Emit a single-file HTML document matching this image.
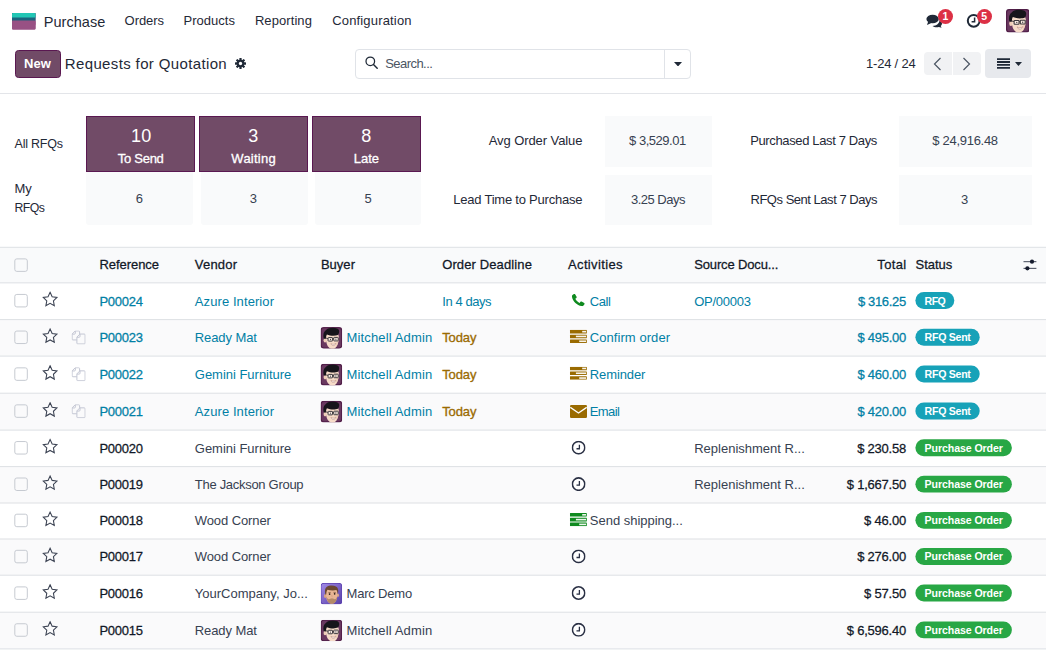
<!DOCTYPE html>
<html lang="en">
<head>
<meta charset="utf-8">
<title>Odoo - Requests for Quotation</title>
<style>
*{box-sizing:border-box;margin:0;padding:0}
html,body{width:1046px;height:654px;overflow:hidden;background:#fff}
body{font-family:"Liberation Sans",sans-serif;font-size:13px;color:#374151;position:relative}
.abs{position:absolute}
.t{position:absolute;white-space:nowrap;line-height:1}
/* navbar */
.badge{position:absolute;width:15.500px;height:15.500px;border-radius:8px;background:#dc3045;color:#fff;font-size:10.500px;font-weight:bold;text-align:center;line-height:15.500px}
/* control panel */
#new{left:15px;top:50px;width:46px;height:28px;background:#714b67;border:1px solid #5a1851;border-radius:3.500px;color:#fff;font-weight:bold;font-size:12.6px;text-align:center;line-height:26px}
#search{left:355px;top:49px;width:336px;height:30px;border:1px solid #e0e3e8;border-radius:4px;background:#fff}
#search .sep{position:absolute;left:308px;top:0;width:1px;height:28px;background:#e0e3e8}

.pbtn{position:absolute;top:52px;height:23px;background:#f1f2f4}
#viewbtn{left:985px;top:49px;width:46px;height:29px;border-radius:4px;background:#e7e9ed}
#cpline{left:0;top:93px;width:1046px;height:1px;background:#e3e5e9}
/* dashboard */
.pcell{position:absolute;top:115.5px;height:56.5px;width:109.3px;background:#714b67;border:1px solid #5a1851;color:#fff;text-align:center}
.lcell{position:absolute;background:#f9fafb;color:#374151;font-size:12.6px;text-align:center;border-radius:0 0 3px 3px}
.cb{width:13.500px;height:13.500px;border:1px solid #cbcfd5;border-radius:2px}
</style>
</head>
<body>
<!-- ================= NAVBAR ================= -->
<div id="nav">
  <svg class="abs" style="left:12px;top:13px" width="24" height="17" viewBox="0 0 24 17">
    <rect x="0" y="0" width="23.5" height="16.4" rx="1" fill="#985184"/>
    <rect x="0" y="0" width="23.5" height="7.800" fill="#1b647d"/>
    <path d="M0 1a1 1 0 0 1 1-1h21.5a1 1 0 0 1 1 1v3.4H0z" fill="#22c7b5"/>
    <rect x="0" y="7.800" width="23.5" height="8.600" rx="1" fill="#985184"/>
    <rect x="0" y="7.800" width="23.5" height="4" fill="#985184"/>
  </svg>

  <!-- chat icon -->
  <svg class="abs" style="left:926px;top:14px" width="17" height="14" viewBox="0 0 17 14">
    <ellipse cx="6.6" cy="5" rx="6.2" ry="4.3" fill="#1f2937"/>
    <path d="M2.2 7.6 L1 11 L5.4 9z" fill="#1f2937"/>
    <path d="M13.4 6.2c1.6.8 2.6 2 2.6 3.3 0 1-.5 1.8-1.3 2.5l.9 1.8-2.7-.9c-.7.2-1.4.3-2.2.3-1.700 0-3.200-.500-4.200-1.300 4.100-.2 7.100-2.600 6.900-5.700z" fill="#1f2937"/>
  </svg>
  <div class="badge" style="left:937.700px;top:8.500px">1</div>
  <!-- clock icon -->
  <svg class="abs" style="left:966px;top:13px" width="16" height="16" viewBox="0 0 16 16">
    <circle cx="7.700" cy="7.800" r="5.900" fill="#fff" stroke="#1f2937" stroke-width="2"/>
    <path d="M8.600 4.600v4.200H5.600" fill="none" stroke="#1f2937" stroke-width="1.500"/>
  </svg>
  <div class="badge" style="left:976.500px;top:8.500px">5</div>
  <!--NAVAV--><svg class="abs" style="left:1005.6px;top:9.4px" width="23.5" height="23.5" viewBox="0 0 24 24"><clipPath id="c99"><rect width="24" height="24" rx="3"/></clipPath><g clip-path="url(#c99)"><rect width="24" height="24" fill="#511e48"/><rect x="1.200" y="1.200" width="21.600" height="21.600" rx="2.500" fill="#6a3960"/><ellipse cx="5" cy="14.700" rx="1.700" ry="2.600" fill="#efcdb8"/><path d="M5.800 9.500C6 6.500 9 5.500 13 5.500s7 1.500 7.200 5c.2 4-.5 8-2.200 10.800-1 1.700-2.700 2.900-4.800 2.900s-4-1.200-5.200-3C6.300 18.700 5.600 13.500 5.800 9.500z" fill="#f6dbc8"/><path d="M17.500 10c1.500 1 2.400 3 2.200 5-.3 3-1.200 5.500-2.500 7 .6-3 .8-8 .3-12z" fill="#eac6b0" opacity=".7"/><path d="M3.400 12.600C2.600 8.500 3.200 5.200 5.800 3.500 8.500.600 14.500.200 18.200 1.500c1.800.6 2.600 2 2.400 3.800-.2 1.600-.6 2.700-1.300 3.400-3 1.300-8.500 1.200-12.300-.5-.8 1.300-1 2.800-1 4.600-.6.400-1.700.5-2.600-.2z" fill="#17151b"/><g fill="#fbf3ee" fill-opacity=".75" stroke="#3a373c" stroke-width="1.100"><rect x="8.300" y="11.700" width="5" height="3.900" rx=".6"/><rect x="14.600" y="11.500" width="5" height="3.900" rx=".6"/></g><path d="M13.300 13h1.300M8.300 12.800l-2.600-.6" stroke="#3a373c" stroke-width="1" fill="none"/><circle cx="11" cy="13.700" r=".7" fill="#4a4448"/><circle cx="17" cy="13.500" r=".7" fill="#4a4448"/><path d="M11.500 18.300c1.600 1.300 4 1.200 5.500-.3-.5 1.900-1.600 2.600-2.900 2.600s-2.200-.8-2.600-2.300z" fill="#fff" stroke="#b98677" stroke-width=".6"/></g></svg><!--/NAVAV-->
</div>

<!-- ================= CONTROL PANEL ================= -->
<div class="abs" id="new"></div>
<!-- gear -->
<svg class="abs" style="left:235px;top:58px" width="11" height="11" viewBox="0 0 22 22">
  <g fill="#1f2937"><circle cx="11" cy="11" r="7.500"/>
  <g id="tooth"><rect x="8.700" y="0" width="4.600" height="22" rx="1"/></g>
  <rect x="8.700" y="0" width="4.600" height="22" rx="1" transform="rotate(45 11 11)"/>
  <rect x="8.700" y="0" width="4.600" height="22" rx="1" transform="rotate(90 11 11)"/>
  <rect x="8.700" y="0" width="4.600" height="22" rx="1" transform="rotate(135 11 11)"/></g>
  <circle cx="11" cy="11" r="3.300" fill="#fff"/>
</svg>

<div class="abs" id="search">
  <svg class="abs" style="left:8.700px;top:6.400px" width="13" height="13" viewBox="0 0 13 13">
    <circle cx="5.300" cy="5.300" r="4.300" fill="none" stroke="#1f2937" stroke-width="1.250"/>
    <path d="M8.500 8.500L12.200 12.200" stroke="#1f2937" stroke-width="1.450" stroke-linecap="round"/>
  </svg>
  <div class="sep"></div>
  <svg class="abs" style="left:317.500px;top:11.500px" width="8" height="4.500" viewBox="0 0 8 4.500"><path d="M0 0h8L4 4.500z" fill="#1f2937"/></svg>
</div>
<div class="pbtn" style="left:923.500px;width:28.300px;border-radius:4px 0 0 4px"></div>
<div class="pbtn" style="left:952.600px;width:28.500px;border-radius:0 4px 4px 0"></div>
<svg class="abs" style="left:933px;top:56.500px" width="9" height="14" viewBox="0 0 9 14"><path d="M7.500 1L1.500 7l6 6" fill="none" stroke="#4b5563" stroke-width="1.200"/></svg>
<svg class="abs" style="left:962px;top:56.500px" width="9" height="14" viewBox="0 0 9 14"><path d="M1.500 1l6 6-6 6" fill="none" stroke="#4b5563" stroke-width="1.200"/></svg>
<div class="abs" id="viewbtn">
  <svg class="abs" style="left:11.500px;top:9px" width="13" height="11" viewBox="0 0 13 11"><path d="M0 .2h13v1.800H0zM0 3.100h13v1.800H0zM0 6h13v1.800H0zM0 8.900h13v1.800H0z" fill="#1f2937"/></svg>
  <svg class="abs" style="left:29.500px;top:12.500px" width="7" height="4" viewBox="0 0 7 4"><path d="M0 0h7L3.500 4z" fill="#1f2937"/></svg>
</div>
<div class="abs" id="cpline"></div>

<!-- ================= DASHBOARD ================= -->

<div class="lcell" style="left:86px;top:172px;width:107px;height:52.500px"></div>
<div class="lcell" style="left:200.500px;top:172px;width:107px;height:52.500px"></div>
<div class="lcell" style="left:314.500px;top:172px;width:106.500px;height:52.500px"></div>

<div class="pcell" style="left:85.800px"></div>
<div class="pcell" style="left:199px"></div>
<div class="pcell" style="left:311.800px"></div>
<div class="lcell" style="left:605px;top:115.500px;width:107px;height:51.500px;border-radius:0"></div>
<div class="lcell" style="left:605px;top:174.500px;width:107px;height:50.500px;border-radius:0"></div>
<div class="lcell" style="left:899px;top:115.500px;width:132.500px;height:51.500px;border-radius:0"></div>
<div class="lcell" style="left:899px;top:174.500px;width:132.500px;height:50.500px;border-radius:0"></div>

<!--TOPTEXT-->
<div class="t" style="left:43.8px;top:15.13px;font-size:14.5px;color:#1f2937;letter-spacing:0.029px;">Purchase</div>
<div class="t" style="left:124.6px;top:14.20px;font-size:13px;color:#1f2937;letter-spacing:-0.056px;">Orders</div>
<div class="t" style="left:183.6px;top:14.20px;font-size:13px;color:#1f2937;letter-spacing:0.011px;">Products</div>
<div class="t" style="left:254.9px;top:14.20px;font-size:13px;color:#1f2937;letter-spacing:0.081px;">Reporting</div>
<div class="t" style="left:332.2px;top:14.20px;font-size:13px;color:#1f2937;letter-spacing:0.167px;">Configuration</div>
<div class="t" style="left:24.1px;top:57.00px;font-size:13px;color:#fff;font-weight:700;letter-spacing:0.022px;">New</div>
<div class="t" style="left:64.8px;top:56.20px;font-size:15px;color:#1f2937;letter-spacing:0.365px;">Requests for Quotation</div>
<div class="t" style="left:385.2px;top:57.40px;font-size:13px;color:#4b5563;letter-spacing:-0.548px;">Search...</div>
<div class="t" style="left:866.0px;top:57.40px;font-size:13px;color:#1f2937;letter-spacing:-0.203px;">1-24 / 24</div>
<div class="t" style="left:14.6px;top:137.62px;font-size:12.5px;color:#1f2937;letter-spacing:-0.237px;">All RFQs</div>
<div class="t" style="left:14.6px;top:182.30px;font-size:13px;color:#1f2937;letter-spacing:-0.122px;">My</div>
<div class="t" style="left:14.6px;top:202.29px;font-size:12.3px;color:#1f2937;letter-spacing:-0.600px;">RFQs</div>
<div class="t" style="left:488.72px;top:134.30px;font-size:13px;color:#1f2937;letter-spacing:-0.080px;">Avg Order Value</div>
<div class="t" style="left:453.28px;top:192.90px;font-size:13px;color:#1f2937;letter-spacing:-0.224px;">Lead Time to Purchase</div>
<div class="t" style="left:750.2px;top:134.30px;font-size:13px;color:#1f2937;letter-spacing:-0.362px;">Purchased Last 7 Days</div>
<div class="t" style="left:750.5px;top:192.90px;font-size:13px;color:#1f2937;letter-spacing:-0.479px;">RFQs Sent Last 7 Days</div>
<div class="t" style="left:131.07px;top:126.56px;font-size:18px;color:#fff;letter-spacing:0.234px;">10</div>
<div class="t" style="left:248.29px;top:126.56px;font-size:18px;color:#fff;">3</div>
<div class="t" style="left:361.29px;top:126.56px;font-size:18px;color:#fff;">8</div>
<div class="t" style="left:117.76px;top:152.00px;font-size:13px;color:#fff;letter-spacing:-0.272px;-webkit-text-stroke:0.3px #fff;">To Send</div>
<div class="t" style="left:231.37px;top:152.00px;font-size:13px;color:#fff;letter-spacing:0.232px;-webkit-text-stroke:0.3px #fff;">Waiting</div>
<div class="t" style="left:353.86px;top:152.00px;font-size:13px;color:#fff;letter-spacing:-0.078px;-webkit-text-stroke:0.3px #fff;">Late</div>
<div class="t" style="left:135.78px;top:192.00px;font-size:13px;color:#374151;">6</div>
<div class="t" style="left:249.68px;top:192.00px;font-size:13px;color:#374151;">3</div>
<div class="t" style="left:364.38px;top:192.00px;font-size:13px;color:#374151;">5</div>
<div class="t" style="left:629.01px;top:134.30px;font-size:13px;color:#374151;letter-spacing:-0.475px;">$ 3,529.01</div>
<div class="t" style="left:630.99px;top:192.90px;font-size:13px;color:#374151;letter-spacing:-0.516px;">3.25 Days</div>
<div class="t" style="left:932.31px;top:134.30px;font-size:13px;color:#374151;letter-spacing:-0.290px;">$ 24,916.48</div>
<div class="t" style="left:961.08px;top:192.90px;font-size:13px;color:#374151;">3</div>
<!--/TOPTEXT-->
<!-- ================= LIST ================= -->
<!--LIST-->
<svg class="abs" style="left:0;top:0" width="1046" height="654" viewBox="0 0 1046 654"><rect x="0" y="247.30" width="1046" height="35.55" fill="#f9fafb"/><rect x="0" y="246.80" width="1046" height="1" fill="#dde0e4"/><rect x="0" y="319.60" width="1046" height="36.50" fill="#fafafb"/><rect x="0" y="393.20" width="1046" height="36.90" fill="#fafafb"/><rect x="0" y="466.60" width="1046" height="36.40" fill="#fafafb"/><rect x="0" y="539.00" width="1046" height="36.20" fill="#fafafb"/><rect x="0" y="612.20" width="1046" height="36.70" fill="#fafafb"/><rect x="0" y="282.35" width="1046" height="1" fill="#dde0e4"/><rect x="0" y="319.10" width="1046" height="1" fill="#dde0e4"/><rect x="0" y="355.60" width="1046" height="1" fill="#dde0e4"/><rect x="0" y="392.70" width="1046" height="1" fill="#dde0e4"/><rect x="0" y="429.60" width="1046" height="1" fill="#dde0e4"/><rect x="0" y="466.10" width="1046" height="1" fill="#dde0e4"/><rect x="0" y="502.50" width="1046" height="1" fill="#dde0e4"/><rect x="0" y="538.50" width="1046" height="1" fill="#dde0e4"/><rect x="0" y="574.70" width="1046" height="1" fill="#dde0e4"/><rect x="0" y="611.70" width="1046" height="1" fill="#dde0e4"/><rect x="0" y="648.40" width="1046" height="1" fill="#dde0e4"/><rect x="14.8" y="258.88" width="12.500" height="12.500" rx="2" fill="none" stroke="#c6cad1" stroke-width="1"/><rect x="14.8" y="294.43" width="12.500" height="12.500" rx="2" fill="none" stroke="#c6cad1" stroke-width="1"/><rect x="14.8" y="331.05" width="12.500" height="12.500" rx="2" fill="none" stroke="#c6cad1" stroke-width="1"/><rect x="14.8" y="367.85" width="12.500" height="12.500" rx="2" fill="none" stroke="#c6cad1" stroke-width="1"/><rect x="14.8" y="404.85" width="12.500" height="12.500" rx="2" fill="none" stroke="#c6cad1" stroke-width="1"/><rect x="14.8" y="441.55" width="12.500" height="12.500" rx="2" fill="none" stroke="#c6cad1" stroke-width="1"/><rect x="14.8" y="478.00" width="12.500" height="12.500" rx="2" fill="none" stroke="#c6cad1" stroke-width="1"/><rect x="14.8" y="514.20" width="12.500" height="12.500" rx="2" fill="none" stroke="#c6cad1" stroke-width="1"/><rect x="14.8" y="550.30" width="12.500" height="12.500" rx="2" fill="none" stroke="#c6cad1" stroke-width="1"/><rect x="14.8" y="586.90" width="12.500" height="12.500" rx="2" fill="none" stroke="#c6cad1" stroke-width="1"/><rect x="14.8" y="623.75" width="12.500" height="12.500" rx="2" fill="none" stroke="#c6cad1" stroke-width="1"/><svg x="42.10" y="291.23" width="16" height="15.800" viewBox="0 0 16 15.4" preserveAspectRatio="none"><path d="M8 1.1l2.05 4.35 4.75.62-3.47 3.3.87 4.72L8 11.78l-4.2 2.31.87-4.72L1.2 6.07l4.75-.62z" fill="none" stroke="#3d4454" stroke-width="1.080" stroke-linejoin="miter"/></svg><svg x="571.40" y="293.62" width="14" height="13" viewBox="0 0 14 13"><path d="M2.600.4c.4-.2.900-.1 1.100.3l1.500 2.500c.2.400.1.800-.2 1.100l-1.100.9c.8 1.700 2.300 3.200 4.200 4.100l1-1.100c.3-.3.700-.4 1.100-.2l2.600 1.400c.4.200.5.700.3 1.100l-.5.900c-.5.900-1.400 1.300-2.400 1.100C5.500 11.600 1.600 7.800.6 3.300.4 2.300.8 1.400 1.700.9z" fill="#0f8a1f"/></svg><rect x="915.400" y="292.12" width="38.9" height="16.900" rx="8.450" fill="#17a2b8"/><svg x="42.10" y="327.85" width="16" height="15.800" viewBox="0 0 16 15.4" preserveAspectRatio="none"><path d="M8 1.1l2.05 4.35 4.75.62-3.47 3.3.87 4.72L8 11.78l-4.2 2.31.87-4.72L1.2 6.07l4.75-.62z" fill="none" stroke="#3d4454" stroke-width="1.080" stroke-linejoin="miter"/></svg><svg x="71.60" y="330.45" width="14" height="14" viewBox="0 0 14 14"><g fill="none" stroke="#c3c6d3" stroke-width="1"><path d="M5.2 9.5H1.3a.8.8 0 0 1-.8-.8V3.6L3.600.5h3.600a.8.8 0 0 1 .8.8v2.400"/><path d="M3.700.6v2.300a.8.8 0 0 1-.8.8H.6"/><path d="M5.300 12.700V6.600l3-3h4.400a.8.8 0 0 1 .8.8v8.300a.8.8 0 0 1-.8.8H6.100a.8.8 0 0 1-.8-.8z"/><path d="M8.400 3.700V6a.8.8 0 0 1-.8.8H5.400"/></g></svg><svg x="320.60" y="327.05" width="21.6" height="21.6" viewBox="0 0 24 24"><clipPath id="c1"><rect width="24" height="24" rx="3.4"/></clipPath><g clip-path="url(#c1)"><rect width="24" height="24" fill="#511e48"/><rect x="1.200" y="1.200" width="21.600" height="21.600" rx="2.500" fill="#6a3960"/><ellipse cx="5" cy="14.700" rx="1.700" ry="2.600" fill="#efcdb8"/><path d="M5.800 9.500C6 6.500 9 5.500 13 5.500s7 1.500 7.200 5c.2 4-.5 8-2.200 10.800-1 1.700-2.700 2.900-4.800 2.900s-4-1.200-5.200-3C6.300 18.700 5.600 13.500 5.800 9.500z" fill="#f6dbc8"/><path d="M17.500 10c1.500 1 2.400 3 2.200 5-.3 3-1.200 5.500-2.500 7 .6-3 .8-8 .3-12z" fill="#eac6b0" opacity=".7"/><path d="M3.400 12.600C2.600 8.500 3.200 5.200 5.800 3.500 8.500.600 14.500.200 18.200 1.500c1.800.6 2.600 2 2.400 3.800-.2 1.600-.6 2.700-1.300 3.400-3 1.300-8.500 1.200-12.300-.5-.8 1.300-1 2.800-1 4.600-.6.400-1.700.5-2.600-.2z" fill="#17151b"/><g fill="#fbf3ee" fill-opacity=".75" stroke="#3a373c" stroke-width="1.100"><rect x="8.300" y="11.700" width="5" height="3.900" rx=".6"/><rect x="14.600" y="11.500" width="5" height="3.900" rx=".6"/></g><path d="M13.300 13h1.300M8.300 12.800l-2.600-.6" stroke="#3a373c" stroke-width="1" fill="none"/><circle cx="11" cy="13.700" r=".7" fill="#4a4448"/><circle cx="17" cy="13.500" r=".7" fill="#4a4448"/><path d="M11.500 18.300c1.600 1.300 4 1.200 5.500-.3-.5 1.900-1.600 2.600-2.900 2.600s-2.200-.8-2.600-2.300z" fill="#fff" stroke="#b98677" stroke-width=".6"/></g></svg><svg x="569.90" y="329.85" width="17" height="13.200" viewBox="0 0 17 13.200"><g fill="#9a6b01"><rect x="0" y="0" width="17" height="3.600" rx=".5"/><rect x="0" y="4.800" width="17" height="3.600" rx=".5"/><rect x="0" y="9.600" width="17" height="3.600" rx=".5"/></g><g fill="#fff" opacity=".92"><rect x="12.300" y="1" width="3.800" height="1.600"/><rect x="6" y="5.800" width="10.100" height="1.600"/><rect x="9.300" y="10.600" width="6.800" height="1.600"/></g></svg><rect x="915.400" y="328.75" width="64.3" height="16.900" rx="8.450" fill="#17a2b8"/><svg x="42.10" y="364.65" width="16" height="15.800" viewBox="0 0 16 15.4" preserveAspectRatio="none"><path d="M8 1.1l2.05 4.35 4.75.62-3.47 3.3.87 4.72L8 11.78l-4.2 2.31.87-4.72L1.2 6.07l4.75-.62z" fill="none" stroke="#3d4454" stroke-width="1.080" stroke-linejoin="miter"/></svg><svg x="71.60" y="367.25" width="14" height="14" viewBox="0 0 14 14"><g fill="none" stroke="#c3c6d3" stroke-width="1"><path d="M5.2 9.5H1.3a.8.8 0 0 1-.8-.8V3.6L3.600.5h3.600a.8.8 0 0 1 .8.8v2.400"/><path d="M3.700.6v2.300a.8.8 0 0 1-.8.8H.6"/><path d="M5.300 12.700V6.600l3-3h4.400a.8.8 0 0 1 .8.8v8.300a.8.8 0 0 1-.8.8H6.100a.8.8 0 0 1-.8-.8z"/><path d="M8.400 3.700V6a.8.8 0 0 1-.8.8H5.400"/></g></svg><svg x="320.60" y="363.85" width="21.6" height="21.6" viewBox="0 0 24 24"><clipPath id="c2"><rect width="24" height="24" rx="3.4"/></clipPath><g clip-path="url(#c2)"><rect width="24" height="24" fill="#511e48"/><rect x="1.200" y="1.200" width="21.600" height="21.600" rx="2.500" fill="#6a3960"/><ellipse cx="5" cy="14.700" rx="1.700" ry="2.600" fill="#efcdb8"/><path d="M5.800 9.500C6 6.500 9 5.500 13 5.500s7 1.500 7.200 5c.2 4-.5 8-2.200 10.800-1 1.700-2.700 2.900-4.800 2.900s-4-1.200-5.200-3C6.300 18.700 5.600 13.500 5.800 9.500z" fill="#f6dbc8"/><path d="M17.500 10c1.500 1 2.400 3 2.200 5-.3 3-1.200 5.500-2.500 7 .6-3 .8-8 .3-12z" fill="#eac6b0" opacity=".7"/><path d="M3.400 12.600C2.600 8.500 3.200 5.200 5.800 3.500 8.500.600 14.500.200 18.200 1.500c1.800.6 2.600 2 2.400 3.800-.2 1.600-.6 2.700-1.300 3.400-3 1.300-8.500 1.200-12.300-.5-.8 1.300-1 2.800-1 4.600-.6.400-1.700.5-2.600-.2z" fill="#17151b"/><g fill="#fbf3ee" fill-opacity=".75" stroke="#3a373c" stroke-width="1.100"><rect x="8.300" y="11.700" width="5" height="3.900" rx=".6"/><rect x="14.600" y="11.500" width="5" height="3.900" rx=".6"/></g><path d="M13.300 13h1.300M8.300 12.800l-2.600-.6" stroke="#3a373c" stroke-width="1" fill="none"/><circle cx="11" cy="13.700" r=".7" fill="#4a4448"/><circle cx="17" cy="13.500" r=".7" fill="#4a4448"/><path d="M11.500 18.300c1.600 1.300 4 1.200 5.500-.3-.5 1.900-1.600 2.600-2.900 2.600s-2.200-.8-2.600-2.300z" fill="#fff" stroke="#b98677" stroke-width=".6"/></g></svg><svg x="569.90" y="366.65" width="17" height="13.200" viewBox="0 0 17 13.200"><g fill="#9a6b01"><rect x="0" y="0" width="17" height="3.600" rx=".5"/><rect x="0" y="4.800" width="17" height="3.600" rx=".5"/><rect x="0" y="9.600" width="17" height="3.600" rx=".5"/></g><g fill="#fff" opacity=".92"><rect x="12.300" y="1" width="3.800" height="1.600"/><rect x="6" y="5.800" width="10.100" height="1.600"/><rect x="9.300" y="10.600" width="6.800" height="1.600"/></g></svg><rect x="915.400" y="365.55" width="64.3" height="16.900" rx="8.450" fill="#17a2b8"/><svg x="42.10" y="401.65" width="16" height="15.800" viewBox="0 0 16 15.4" preserveAspectRatio="none"><path d="M8 1.1l2.05 4.35 4.75.62-3.47 3.3.87 4.72L8 11.78l-4.2 2.31.87-4.72L1.2 6.07l4.75-.62z" fill="none" stroke="#3d4454" stroke-width="1.080" stroke-linejoin="miter"/></svg><svg x="71.60" y="404.25" width="14" height="14" viewBox="0 0 14 14"><g fill="none" stroke="#c3c6d3" stroke-width="1"><path d="M5.2 9.5H1.3a.8.8 0 0 1-.8-.8V3.6L3.600.5h3.600a.8.8 0 0 1 .8.8v2.400"/><path d="M3.700.6v2.300a.8.8 0 0 1-.8.8H.6"/><path d="M5.300 12.700V6.600l3-3h4.400a.8.8 0 0 1 .8.8v8.300a.8.8 0 0 1-.8.8H6.100a.8.8 0 0 1-.8-.8z"/><path d="M8.400 3.700V6a.8.8 0 0 1-.8.8H5.400"/></g></svg><svg x="320.60" y="400.85" width="21.6" height="21.6" viewBox="0 0 24 24"><clipPath id="c3"><rect width="24" height="24" rx="3.4"/></clipPath><g clip-path="url(#c3)"><rect width="24" height="24" fill="#511e48"/><rect x="1.200" y="1.200" width="21.600" height="21.600" rx="2.500" fill="#6a3960"/><ellipse cx="5" cy="14.700" rx="1.700" ry="2.600" fill="#efcdb8"/><path d="M5.800 9.500C6 6.500 9 5.500 13 5.500s7 1.500 7.200 5c.2 4-.5 8-2.200 10.800-1 1.700-2.700 2.900-4.800 2.900s-4-1.200-5.200-3C6.300 18.700 5.600 13.500 5.800 9.500z" fill="#f6dbc8"/><path d="M17.500 10c1.500 1 2.400 3 2.200 5-.3 3-1.200 5.500-2.500 7 .6-3 .8-8 .3-12z" fill="#eac6b0" opacity=".7"/><path d="M3.400 12.600C2.600 8.500 3.200 5.200 5.800 3.500 8.500.600 14.500.200 18.200 1.500c1.800.6 2.600 2 2.400 3.800-.2 1.600-.6 2.700-1.300 3.400-3 1.300-8.500 1.200-12.300-.5-.8 1.300-1 2.800-1 4.600-.6.400-1.700.5-2.600-.2z" fill="#17151b"/><g fill="#fbf3ee" fill-opacity=".75" stroke="#3a373c" stroke-width="1.100"><rect x="8.300" y="11.700" width="5" height="3.900" rx=".6"/><rect x="14.600" y="11.500" width="5" height="3.900" rx=".6"/></g><path d="M13.300 13h1.300M8.300 12.800l-2.600-.6" stroke="#3a373c" stroke-width="1" fill="none"/><circle cx="11" cy="13.700" r=".7" fill="#4a4448"/><circle cx="17" cy="13.500" r=".7" fill="#4a4448"/><path d="M11.500 18.300c1.600 1.300 4 1.200 5.500-.3-.5 1.900-1.600 2.600-2.900 2.600s-2.200-.8-2.600-2.300z" fill="#fff" stroke="#b98677" stroke-width=".6"/></g></svg><svg x="570.00" y="405.05" width="17" height="13" viewBox="0 0 17 13"><rect width="17" height="13" rx="1.300" fill="#9a6b01"/><path d="M.3 2.300l8.200 5.600 8.200-5.600" fill="none" stroke="#fff" stroke-width="1.300"/></svg><rect x="915.400" y="402.55" width="64.3" height="16.900" rx="8.450" fill="#17a2b8"/><svg x="42.10" y="438.35" width="16" height="15.800" viewBox="0 0 16 15.4" preserveAspectRatio="none"><path d="M8 1.1l2.05 4.35 4.75.62-3.47 3.3.87 4.72L8 11.78l-4.2 2.31.87-4.72L1.2 6.07l4.75-.62z" fill="none" stroke="#3d4454" stroke-width="1.080" stroke-linejoin="miter"/></svg><svg x="571.60" y="440.65" width="14" height="14" viewBox="0 0 14 14"><circle cx="7" cy="7" r="6.200" fill="#fff" stroke="#2a3044" stroke-width="1.600"/><path d="M7.800 4v4.100H4.900" fill="none" stroke="#2a3044" stroke-width="1.300"/></svg><rect x="915.400" y="439.25" width="96.5" height="16.900" rx="8.450" fill="#28a745"/><svg x="42.10" y="474.80" width="16" height="15.800" viewBox="0 0 16 15.4" preserveAspectRatio="none"><path d="M8 1.1l2.05 4.35 4.75.62-3.47 3.3.87 4.72L8 11.78l-4.2 2.31.87-4.72L1.2 6.07l4.75-.62z" fill="none" stroke="#3d4454" stroke-width="1.080" stroke-linejoin="miter"/></svg><svg x="571.60" y="477.10" width="14" height="14" viewBox="0 0 14 14"><circle cx="7" cy="7" r="6.200" fill="#fff" stroke="#2a3044" stroke-width="1.600"/><path d="M7.800 4v4.100H4.900" fill="none" stroke="#2a3044" stroke-width="1.300"/></svg><rect x="915.400" y="475.70" width="96.5" height="16.900" rx="8.450" fill="#28a745"/><svg x="42.10" y="511.00" width="16" height="15.800" viewBox="0 0 16 15.4" preserveAspectRatio="none"><path d="M8 1.1l2.05 4.35 4.75.62-3.47 3.3.87 4.72L8 11.78l-4.2 2.31.87-4.72L1.2 6.07l4.75-.62z" fill="none" stroke="#3d4454" stroke-width="1.080" stroke-linejoin="miter"/></svg><svg x="569.90" y="513.00" width="17" height="13.200" viewBox="0 0 17 13.200"><g fill="#0f8a1f"><rect x="0" y="0" width="17" height="3.600" rx=".5"/><rect x="0" y="4.800" width="17" height="3.600" rx=".5"/><rect x="0" y="9.600" width="17" height="3.600" rx=".5"/></g><g fill="#fff" opacity=".92"><rect x="12.300" y="1" width="3.800" height="1.600"/><rect x="6" y="5.800" width="10.100" height="1.600"/><rect x="9.300" y="10.600" width="6.800" height="1.600"/></g></svg><rect x="915.400" y="511.90" width="96.5" height="16.900" rx="8.450" fill="#28a745"/><svg x="42.10" y="547.10" width="16" height="15.800" viewBox="0 0 16 15.4" preserveAspectRatio="none"><path d="M8 1.1l2.05 4.35 4.75.62-3.47 3.3.87 4.72L8 11.78l-4.2 2.31.87-4.72L1.2 6.07l4.75-.62z" fill="none" stroke="#3d4454" stroke-width="1.080" stroke-linejoin="miter"/></svg><svg x="571.60" y="549.40" width="14" height="14" viewBox="0 0 14 14"><circle cx="7" cy="7" r="6.200" fill="#fff" stroke="#2a3044" stroke-width="1.600"/><path d="M7.800 4v4.100H4.900" fill="none" stroke="#2a3044" stroke-width="1.300"/></svg><rect x="915.400" y="548.00" width="96.5" height="16.900" rx="8.450" fill="#28a745"/><svg x="42.10" y="583.70" width="16" height="15.800" viewBox="0 0 16 15.4" preserveAspectRatio="none"><path d="M8 1.1l2.05 4.35 4.75.62-3.47 3.3.87 4.72L8 11.78l-4.2 2.31.87-4.72L1.2 6.07l4.75-.62z" fill="none" stroke="#3d4454" stroke-width="1.080" stroke-linejoin="miter"/></svg><svg x="320.60" y="582.90" width="21.6" height="21.6" viewBox="0 0 24 24"><clipPath id="c4"><rect width="24" height="24" rx="3.4"/></clipPath><linearGradient id="g4" x1="0" y1="0" x2="1" y2="1"><stop offset="0" stop-color="#a18be6"/><stop offset=".5" stop-color="#7c63c6"/><stop offset="1" stop-color="#5a43a8"/></linearGradient><g clip-path="url(#c4)"><rect width="24" height="24" fill="#5a3fb0"/><rect x=".9" y=".9" width="22.200" height="22.200" rx="2.600" fill="url(#g4)"/><ellipse cx="5.200" cy="14.600" rx="1.500" ry="2.300" fill="#d9a283"/><ellipse cx="19.300" cy="13.800" rx="1.200" ry="2" fill="#d9a283"/><path d="M6 9c.5-3.500 3-5 6.500-5s6 1.700 6.300 5.500c.3 4-.3 8-1.800 10.700-1 1.800-2.600 2.900-4.600 2.900s-3.800-1.200-4.900-3C6.200 17.700 5.600 13 6 9z" fill="#e9b594"/><path d="M5.300 13C4.300 9 4.800 6 7 4.400 9 2.800 14 2.500 17 3.900c2 1 2.700 3 2.600 5.600 0 1.100-.2 2-.5 2.800-.3-1.700-.7-3.200-1.500-4.300-2.500.6-7 .5-10-.3-.9 1.400-1.200 3.100-1.300 5.200-.4.200-.7.200-1 .1z" fill="#6b4831"/><path d="M6.500 15c.6 1.800 1.500 2.900 2.700 3.200 1.700-1.200 5-1.200 6.700 0 1.200-.4 2-1.500 2.500-3.500-.1 4.500-2.200 8.500-5.900 8.500s-5.700-3.800-6-8.200z" fill="#b48a68"/><path d="M11.200 17.200c.9-.5 2.100-.5 3 0-.8.600-2.200.6-3 0z" fill="#c79a7c"/><circle cx="10" cy="12.400" r=".95" fill="#2a1d1a"/><circle cx="15.600" cy="12.100" r=".95" fill="#2a1d1a"/><path d="M8.600 10.900l2.600-.3M14.300 10.500l2.600.1" stroke="#6b4831" stroke-width=".7"/><path d="M12.400 13.500c.2 1.200.3 2 .9 2.400" stroke="#cf977a" stroke-width=".7" fill="none"/></g></svg><svg x="571.60" y="586.00" width="14" height="14" viewBox="0 0 14 14"><circle cx="7" cy="7" r="6.200" fill="#fff" stroke="#2a3044" stroke-width="1.600"/><path d="M7.800 4v4.100H4.900" fill="none" stroke="#2a3044" stroke-width="1.300"/></svg><rect x="915.400" y="584.60" width="96.5" height="16.900" rx="8.450" fill="#28a745"/><svg x="42.10" y="620.55" width="16" height="15.800" viewBox="0 0 16 15.4" preserveAspectRatio="none"><path d="M8 1.1l2.05 4.35 4.75.62-3.47 3.3.87 4.72L8 11.78l-4.2 2.31.87-4.72L1.2 6.07l4.75-.62z" fill="none" stroke="#3d4454" stroke-width="1.080" stroke-linejoin="miter"/></svg><svg x="320.60" y="619.75" width="21.6" height="21.6" viewBox="0 0 24 24"><clipPath id="c5"><rect width="24" height="24" rx="3.4"/></clipPath><g clip-path="url(#c5)"><rect width="24" height="24" fill="#511e48"/><rect x="1.200" y="1.200" width="21.600" height="21.600" rx="2.500" fill="#6a3960"/><ellipse cx="5" cy="14.700" rx="1.700" ry="2.600" fill="#efcdb8"/><path d="M5.800 9.500C6 6.500 9 5.500 13 5.500s7 1.500 7.200 5c.2 4-.5 8-2.200 10.800-1 1.700-2.700 2.900-4.800 2.900s-4-1.200-5.200-3C6.300 18.700 5.600 13.500 5.800 9.500z" fill="#f6dbc8"/><path d="M17.500 10c1.500 1 2.400 3 2.200 5-.3 3-1.200 5.500-2.500 7 .6-3 .8-8 .3-12z" fill="#eac6b0" opacity=".7"/><path d="M3.400 12.600C2.600 8.500 3.200 5.200 5.800 3.500 8.500.600 14.500.200 18.200 1.500c1.800.6 2.600 2 2.400 3.800-.2 1.600-.6 2.700-1.300 3.400-3 1.300-8.500 1.200-12.300-.5-.8 1.300-1 2.800-1 4.600-.6.400-1.700.5-2.600-.2z" fill="#17151b"/><g fill="#fbf3ee" fill-opacity=".75" stroke="#3a373c" stroke-width="1.100"><rect x="8.300" y="11.700" width="5" height="3.900" rx=".6"/><rect x="14.600" y="11.500" width="5" height="3.900" rx=".6"/></g><path d="M13.300 13h1.300M8.300 12.800l-2.600-.6" stroke="#3a373c" stroke-width="1" fill="none"/><circle cx="11" cy="13.700" r=".7" fill="#4a4448"/><circle cx="17" cy="13.500" r=".7" fill="#4a4448"/><path d="M11.500 18.300c1.600 1.300 4 1.200 5.500-.3-.5 1.900-1.600 2.600-2.900 2.600s-2.200-.8-2.600-2.300z" fill="#fff" stroke="#b98677" stroke-width=".6"/></g></svg><svg x="571.60" y="622.85" width="14" height="14" viewBox="0 0 14 14"><circle cx="7" cy="7" r="6.200" fill="#fff" stroke="#2a3044" stroke-width="1.600"/><path d="M7.800 4v4.100H4.900" fill="none" stroke="#2a3044" stroke-width="1.300"/></svg><rect x="915.400" y="621.45" width="96.5" height="16.900" rx="8.450" fill="#28a745"/><svg x="1023" y="259" width="14" height="12" viewBox="0 0 14 12"><path d="M.5 2.700h12.900M.5 9.350h12.900" stroke="#2b3345" stroke-width=".9"/><circle cx="9" cy="2.700" r="2.100" fill="#151b2d"/><circle cx="4.400" cy="9.350" r="2.100" fill="#151b2d"/></svg></svg>
<div class="t" style="left:99.4px;top:258.40px;font-size:13px;color:#111827;letter-spacing:-0.043px;-webkit-text-stroke:0.26px #111827;">Reference</div>
<div class="t" style="left:194.8px;top:258.40px;font-size:13px;color:#111827;letter-spacing:0.216px;-webkit-text-stroke:0.26px #111827;">Vendor</div>
<div class="t" style="left:320.9px;top:258.40px;font-size:13px;color:#111827;letter-spacing:0.026px;-webkit-text-stroke:0.26px #111827;">Buyer</div>
<div class="t" style="left:442.2px;top:258.40px;font-size:13px;color:#111827;letter-spacing:0.117px;-webkit-text-stroke:0.26px #111827;">Order Deadline</div>
<div class="t" style="left:568.0px;top:258.40px;font-size:13px;color:#111827;letter-spacing:0.360px;-webkit-text-stroke:0.26px #111827;">Activities</div>
<div class="t" style="left:694.2px;top:258.40px;font-size:13px;color:#111827;letter-spacing:-0.143px;-webkit-text-stroke:0.26px #111827;">Source Docu...</div>
<div class="t" style="left:915.5px;top:258.40px;font-size:13px;color:#111827;letter-spacing:-0.027px;-webkit-text-stroke:0.26px #111827;">Status</div>
<div class="t" style="right:139.45px;top:258.40px;font-size:13px;color:#111827;letter-spacing:0.346px;-webkit-text-stroke:0.26px #111827;">Total</div>
<div class="t" style="left:99.4px;top:295.02px;font-size:13px;color:#0180a5;letter-spacing:-0.255px;-webkit-text-stroke:0.26px #0180a5;">P00024</div>
<div class="t" style="left:194.8px;top:295.02px;font-size:13px;color:#0180a5;letter-spacing:0.090px;">Azure Interior</div>
<div class="t" style="left:442.2px;top:295.02px;font-size:13px;color:#0180a5;letter-spacing:-0.418px;">In 4 days</div>
<div class="t" style="left:589.8px;top:295.02px;font-size:13px;color:#0180a5;letter-spacing:-0.427px;">Call</div>
<div class="t" style="left:694.2px;top:295.02px;font-size:13px;color:#0180a5;letter-spacing:-0.256px;">OP/00003</div>
<div class="t" style="right:140.13px;top:295.02px;font-size:13px;color:#0180a5;letter-spacing:-0.326px;-webkit-text-stroke:0.26px #0180a5;">$ 316.25</div>
<div class="t" style="left:924.6px;top:296.05px;font-size:10.6px;color:#fff;font-weight:700;letter-spacing:-0.600px;">RFQ</div>
<div class="t" style="left:99.4px;top:331.05px;font-size:13px;color:#0180a5;letter-spacing:-0.255px;-webkit-text-stroke:0.26px #0180a5;">P00023</div>
<div class="t" style="left:194.8px;top:331.05px;font-size:13px;color:#0180a5;letter-spacing:-0.097px;">Ready Mat</div>
<div class="t" style="left:346.5px;top:331.05px;font-size:13px;color:#0180a5;letter-spacing:0.142px;">Mitchell Admin</div>
<div class="t" style="left:442.2px;top:331.05px;font-size:13px;color:#9a6b01;letter-spacing:-0.121px;-webkit-text-stroke:0.32px #9a6b01;">Today</div>
<div class="t" style="left:589.8px;top:331.05px;font-size:13px;color:#0180a5;letter-spacing:0.064px;">Confirm order</div>
<div class="t" style="right:140.06px;top:331.05px;font-size:13px;color:#0180a5;letter-spacing:-0.264px;-webkit-text-stroke:0.26px #0180a5;">$ 495.00</div>
<div class="t" style="left:924.6px;top:332.08px;font-size:10.6px;color:#fff;font-weight:700;letter-spacing:-0.283px;">RFQ Sent</div>
<div class="t" style="left:99.4px;top:367.85px;font-size:13px;color:#0180a5;letter-spacing:-0.255px;-webkit-text-stroke:0.26px #0180a5;">P00022</div>
<div class="t" style="left:194.8px;top:367.85px;font-size:13px;color:#0180a5;letter-spacing:-0.020px;">Gemini Furniture</div>
<div class="t" style="left:346.5px;top:367.85px;font-size:13px;color:#0180a5;letter-spacing:0.142px;">Mitchell Admin</div>
<div class="t" style="left:442.2px;top:367.85px;font-size:13px;color:#9a6b01;letter-spacing:-0.121px;-webkit-text-stroke:0.32px #9a6b01;">Today</div>
<div class="t" style="left:589.8px;top:367.85px;font-size:13px;color:#0180a5;letter-spacing:-0.107px;">Reminder</div>
<div class="t" style="right:140.06px;top:367.85px;font-size:13px;color:#0180a5;letter-spacing:-0.264px;-webkit-text-stroke:0.26px #0180a5;">$ 460.00</div>
<div class="t" style="left:924.6px;top:368.88px;font-size:10.6px;color:#fff;font-weight:700;letter-spacing:-0.283px;">RFQ Sent</div>
<div class="t" style="left:99.4px;top:404.85px;font-size:13px;color:#0180a5;letter-spacing:-0.255px;-webkit-text-stroke:0.26px #0180a5;">P00021</div>
<div class="t" style="left:194.8px;top:404.85px;font-size:13px;color:#0180a5;letter-spacing:0.090px;">Azure Interior</div>
<div class="t" style="left:346.5px;top:404.85px;font-size:13px;color:#0180a5;letter-spacing:0.142px;">Mitchell Admin</div>
<div class="t" style="left:442.2px;top:404.85px;font-size:13px;color:#9a6b01;letter-spacing:-0.121px;-webkit-text-stroke:0.32px #9a6b01;">Today</div>
<div class="t" style="left:589.8px;top:404.85px;font-size:13px;color:#0180a5;letter-spacing:-0.600px;">Email</div>
<div class="t" style="right:140.06px;top:404.85px;font-size:13px;color:#0180a5;letter-spacing:-0.264px;-webkit-text-stroke:0.26px #0180a5;">$ 420.00</div>
<div class="t" style="left:924.6px;top:405.88px;font-size:10.6px;color:#fff;font-weight:700;letter-spacing:-0.283px;">RFQ Sent</div>
<div class="t" style="left:99.4px;top:441.55px;font-size:13px;color:#111827;letter-spacing:-0.255px;-webkit-text-stroke:0.26px #111827;">P00020</div>
<div class="t" style="left:194.8px;top:441.55px;font-size:13px;color:#374151;letter-spacing:-0.020px;">Gemini Furniture</div>
<div class="t" style="left:694.2px;top:441.55px;font-size:13px;color:#374151;">Replenishment R...</div>
<div class="t" style="right:140.03px;top:441.55px;font-size:13px;color:#111827;letter-spacing:-0.226px;-webkit-text-stroke:0.26px #111827;">$ 230.58</div>
<div class="t" style="left:924.6px;top:442.58px;font-size:10.6px;color:#fff;font-weight:700;letter-spacing:-0.093px;">Purchase Order</div>
<div class="t" style="left:99.4px;top:478.00px;font-size:13px;color:#111827;letter-spacing:-0.255px;-webkit-text-stroke:0.26px #111827;">P00019</div>
<div class="t" style="left:194.8px;top:478.00px;font-size:13px;color:#374151;letter-spacing:-0.291px;">The Jackson Group</div>
<div class="t" style="left:694.2px;top:478.00px;font-size:13px;color:#374151;">Replenishment R...</div>
<div class="t" style="right:140.03px;top:478.00px;font-size:13px;color:#111827;letter-spacing:-0.225px;-webkit-text-stroke:0.26px #111827;">$ 1,667.50</div>
<div class="t" style="left:924.6px;top:479.03px;font-size:10.6px;color:#fff;font-weight:700;letter-spacing:-0.093px;">Purchase Order</div>
<div class="t" style="left:99.4px;top:514.20px;font-size:13px;color:#111827;letter-spacing:-0.255px;-webkit-text-stroke:0.26px #111827;">P00018</div>
<div class="t" style="left:194.8px;top:514.20px;font-size:13px;color:#374151;letter-spacing:-0.098px;">Wood Corner</div>
<div class="t" style="left:589.8px;top:514.20px;font-size:13px;color:#374151;letter-spacing:-0.015px;">Send shipping...</div>
<div class="t" style="right:140.00px;top:514.20px;font-size:13px;color:#111827;letter-spacing:-0.196px;-webkit-text-stroke:0.26px #111827;">$ 46.00</div>
<div class="t" style="left:924.6px;top:515.23px;font-size:10.6px;color:#fff;font-weight:700;letter-spacing:-0.093px;">Purchase Order</div>
<div class="t" style="left:99.4px;top:550.30px;font-size:13px;color:#111827;letter-spacing:-0.255px;-webkit-text-stroke:0.26px #111827;">P00017</div>
<div class="t" style="left:194.8px;top:550.30px;font-size:13px;color:#374151;letter-spacing:-0.098px;">Wood Corner</div>
<div class="t" style="right:140.03px;top:550.30px;font-size:13px;color:#111827;letter-spacing:-0.226px;-webkit-text-stroke:0.26px #111827;">$ 276.00</div>
<div class="t" style="left:924.6px;top:551.33px;font-size:10.6px;color:#fff;font-weight:700;letter-spacing:-0.093px;">Purchase Order</div>
<div class="t" style="left:99.4px;top:586.90px;font-size:13px;color:#111827;letter-spacing:-0.255px;-webkit-text-stroke:0.26px #111827;">P00016</div>
<div class="t" style="left:194.8px;top:586.90px;font-size:13px;color:#374151;letter-spacing:0.015px;">YourCompany, Jo...</div>
<div class="t" style="left:346.5px;top:586.90px;font-size:13px;color:#374151;letter-spacing:-0.188px;">Marc Demo</div>
<div class="t" style="right:140.00px;top:586.90px;font-size:13px;color:#111827;letter-spacing:-0.196px;-webkit-text-stroke:0.26px #111827;">$ 57.50</div>
<div class="t" style="left:924.6px;top:587.93px;font-size:10.6px;color:#fff;font-weight:700;letter-spacing:-0.093px;">Purchase Order</div>
<div class="t" style="left:99.4px;top:623.75px;font-size:13px;color:#111827;letter-spacing:-0.255px;-webkit-text-stroke:0.26px #111827;">P00015</div>
<div class="t" style="left:194.8px;top:623.75px;font-size:13px;color:#374151;letter-spacing:-0.097px;">Ready Mat</div>
<div class="t" style="left:346.5px;top:623.75px;font-size:13px;color:#374151;letter-spacing:0.142px;">Mitchell Admin</div>
<div class="t" style="right:140.03px;top:623.75px;font-size:13px;color:#111827;letter-spacing:-0.225px;-webkit-text-stroke:0.26px #111827;">$ 6,596.40</div>
<div class="t" style="left:924.6px;top:624.78px;font-size:10.6px;color:#fff;font-weight:700;letter-spacing:-0.093px;">Purchase Order</div>
<!--/LIST-->
</body>
</html>
